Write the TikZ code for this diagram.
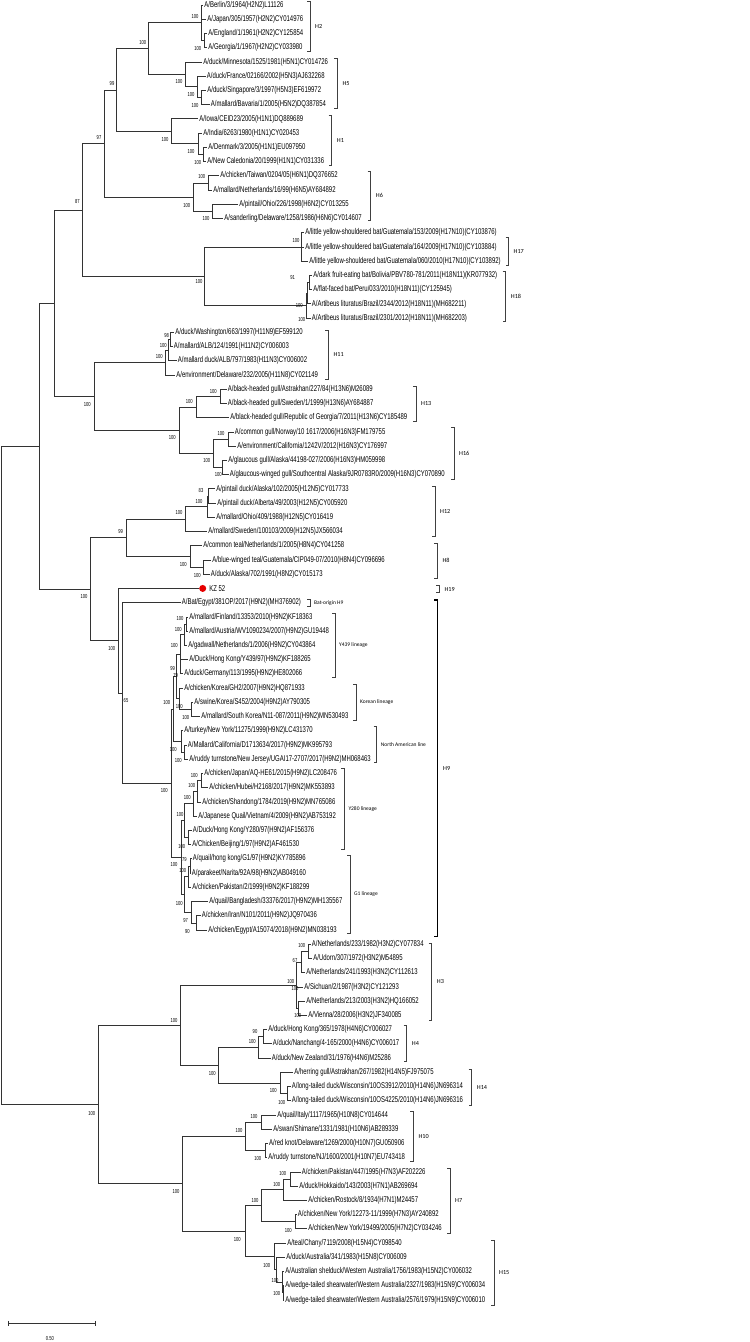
\documentclass[tikz,border=0pt]{standalone}
\usepackage{fontspec}
\newfontfamily\treefont[FakeStretch=0.71]{Liberation Sans}
\newfontfamily\cladefont{Carlito}
\usetikzlibrary{positioning}
\definecolor{kzred}{RGB}{230,0,0}
\tikzset{
  branch/.style={draw=black!80, line width=0.7pt},
  leaf/.style={anchor=west, inner xsep=1.2pt, inner ysep=0pt, font=\treefont\fontsize{8.4}{9}\selectfont},
  boot/.style={inner sep=0pt, font=\treefont\fontsize{5.8}{6}\selectfont},
  bracket/.style={draw=black!75, line width=0.6pt},
  clade/.style={anchor=west, inner sep=0pt, font=\cladefont\fontsize{6.2}{7}\selectfont},
  lineage/.style={anchor=west, inner sep=0pt, font=\cladefont\fontsize{5.5}{6.5}\selectfont},
}
\begin{document}
\begin{tikzpicture}[x=1pt,y=-1pt]
    \path[use as bounding box, fill=white] (0,0) rectangle (750,1342);
    % Internal nodes
    \coordinate (root) at (1,775.28);
    \coordinate (g) at (39.3,446.17);
    \coordinate (e) at (54,303.12);
    \coordinate (d) at (82.3,209.90);
    \coordinate (c) at (104.3,143.53);
    \coordinate (b) at (116.7,89.94);
    \coordinate (a) at (148.3,48.58);
    \coordinate (h2) at (201.7,22.79);
    \coordinate (eg) at (204,40.58);
    \coordinate (h5) at (185,74.37);
    \coordinate (fr5) at (197.7,86.82);
    \coordinate (sb5) at (201,97.50);
    \coordinate (h1) at (171,131.29);
    \coordinate (in1) at (198.7,143.74);
    \coordinate (dn1) at (203.3,154.42);
    \coordinate (h6) at (193.3,197.11);
    \coordinate (tn6) at (208.3,182.88);
    \coordinate (os6) at (212.3,211.34);
    \coordinate (q) at (204.3,276.26);
    \coordinate (h17) at (301.7,246.91);
    \coordinate (h18) at (306,305.61);
    \coordinate (a18) at (307.5,293.16);
    \coordinate (df18) at (309.3,282.49);
    \coordinate (f) at (94.3,396.33);
    \coordinate (h11) at (165.7,362.53);
    \coordinate (al11) at (168.5,350.08);
    \coordinate (wa11) at (170.5,339.41);
    \coordinate (h1316) at (179.3,430.13);
    \coordinate (h13) at (196,407.00);
    \coordinate (as13) at (220,396.33);
    \coordinate (h16) at (213.3,453.25);
    \coordinate (nc16) at (228.3,439.02);
    \coordinate (gl16) at (222.7,467.48);
    \coordinate (i) at (90.7,589.22);
    \coordinate (hn) at (126,537.74);
    \coordinate (h12) at (185,519.06);
    \coordinate (ao12) at (207.3,506.61);
    \coordinate (aa12) at (208.7,495.94);
    \coordinate (h8) at (190,556.41);
    \coordinate (bd8) at (203.3,567.09);
    \coordinate (j) at (118.3,640.69);
    \coordinate (h9) at (122.7,692.94);
    \coordinate (k9) at (171,783.21);
    \coordinate (up9) at (173.3,708.95);
    \coordinate (yk) at (176,676.49);
    \coordinate (y439) at (180,654.25);
    \coordinate (fag9) at (184.3,634.68);
    \coordinate (fa9) at (186,624.01);
    \coordinate (kor) at (179,698.72);
    \coordinate (sk9) at (191.7,709.39);
    \coordinate (na) at (181.7,741.41);
    \coordinate (cr9) at (184.3,752.08);
    \coordinate (lo9) at (181,857.47);
    \coordinate (y280) at (184.5,820.56);
    \coordinate (jhsq) at (193,803.66);
    \coordinate (jhs) at (197,791.21);
    \coordinate (jh) at (201,780.54);
    \coordinate (db) at (188.7,837.46);
    \coordinate (g1) at (184.7,894.38);
    \coordinate (qpp) at (188.3,876.59);
    \coordinate (qp) at (190,865.92);
    \coordinate (bie) at (191.7,912.17);
    \coordinate (ie) at (196.7,922.84);
    \coordinate (n) at (98.3,1104.39);
    \coordinate (m) at (180,1025.12);
    \coordinate (h3) at (296.7,985.10);
    \coordinate (nun3) at (301.7,961.97);
    \coordinate (nu3) at (308.3,951.30);
    \coordinate (nv3) at (298.3,1008.22);
    \coordinate (h414) at (218.3,1065.14);
    \coordinate (h4) at (258.3,1047.35);
    \coordinate (hn4) at (263.3,1036.68);
    \coordinate (h14) at (280,1082.93);
    \coordinate (lt14) at (287.7,1093.60);
    \coordinate (o) at (182.3,1183.65);
    \coordinate (h10) at (245.7,1136.29);
    \coordinate (qs10) at (261,1122.06);
    \coordinate (rr10) at (265.7,1150.52);
    \coordinate (p) at (245,1231.01);
    \coordinate (h7) at (261.7,1205.66);
    \coordinate (phr7) at (283.3,1189.65);
    \coordinate (ph7) at (290.7,1178.98);
    \coordinate (ny7) at (295,1221.67);
    \coordinate (h15) at (274,1256.36);
    \coordinate (au15) at (276,1269.70);
    \coordinate (sw15) at (282,1282.15);
    \coordinate (w15) at (283,1292.82);
    % Leaves
    \node[leaf] (berlin) at (203,5.00) {A/Berlin/3/1964(H2N2)L11126};
    \node[leaf] (japan) at (206,19.23) {A/Japan/305/1957(H2N2)CY014976};
    \node[leaf] (england) at (207,33.46) {A/England/1/1961(H2N2)CY125854};
    \node[leaf] (georgia) at (207,47.69) {A/Georgia/1/1967(H2N2)CY033980};
    \node[leaf] (minnesota) at (202,61.92) {A/duck/Minnesota/1525/1981(H5N1)CY014726};
    \node[leaf] (france) at (205.5,76.15) {A/duck/France/02166/2002(H5N3)AJ632268};
    \node[leaf] (singapore) at (206,90.38) {A/duck/Singapore/3/1997(H5N3)EF619972};
    \node[leaf] (bavaria) at (209.5,104.61) {A/mallard/Bavaria/1/2005(H5N2)DQ387854};
    \node[leaf] (iowa) at (198,118.84) {A/Iowa/CEID23/2005(H1N1)DQ889689};
    \node[leaf] (india) at (202,133.07) {A/India/6263/1980(H1N1)CY020453};
    \node[leaf] (denmark) at (207,147.30) {A/Denmark/3/2005(H1N1)EU097950};
    \node[leaf] (newcal) at (206,161.53) {A/New Caledonia/20/1999(H1N1)CY031336};
    \node[leaf] (taiwan) at (219,175.76) {A/chicken/Taiwan/0204/05(H6N1)DQ376652};
    \node[leaf] (nether6) at (212,189.99) {A/mallard/Netherlands/16/99(H6N5)AY684892};
    \node[leaf] (ohio) at (238,204.22) {A/pintail/Ohio/226/1998(H6N2)CY013255};
    \node[leaf] (sanderling) at (223,218.45) {A/sanderling/Delaware/1258/1986(H6N6)CY014607};
    \node[leaf] (lyb153) at (304,232.68) {A/little yellow-shouldered bat/Guatemala/153/2009(H17N10)(CY103876)};
    \node[leaf] (lyb164) at (304,246.91) {A/little yellow-shouldered bat/Guatemala/164/2009(H17N10)(CY103884)};
    \node[leaf] (lyb060) at (308,261.14) {A/little yellow-shouldered bat/Guatemala/060/2010(H17N10)(CY103892)};
    \node[leaf] (darkfruit) at (312,275.37) {A/dark fruit-eating bat/Bolivia/PBV780-781/2011(H18N11)(KR077932)};
    \node[leaf] (flatfaced) at (312,289.60) {A/flat-faced bat/Peru/033/2010(H18N11)(CY125945)};
    \node[leaf] (art2344) at (310.5,303.83) {A/Artibeus lituratus/Brazil/2344/2012(H18N11)(MH682211)};
    \node[leaf] (art2301) at (310.5,318.06) {A/Artibeus lituratus/Brazil/2301/2012(H18N11)(MH682203)};
    \node[leaf] (washington) at (174,332.29) {A/duck/Washington/663/1997(H11N9)EF599120};
    \node[leaf] (alb124) at (172.5,346.52) {A/mallard/ALB/124/1991(H11N2)CY006003};
    \node[leaf] (alb797) at (176.5,360.75) {A/mallard duck/ALB/797/1983(H11N3)CY006002};
    \node[leaf] (environment) at (175,374.98) {A/environment/Delaware/232/2005(H11N8)CY021149};
    \node[leaf] (astrakhan) at (226.5,389.21) {A/black-headed gull/Astrakhan/227/84(H13N6)M26089};
    \node[leaf] (sweden) at (226.5,403.44) {A/black-headed gull/Sweden/1/1999(H13N6)AY684887};
    \node[leaf] (republic) at (229,417.67) {A/black-headed gull/Republic of Georgia/7/2011(H13N6)CY185489};
    \node[leaf] (norway) at (233.5,431.90) {A/common gull/Norway/10 1617/2006(H16N3)FM179755};
    \node[leaf] (california) at (236,446.13) {A/environment/California/1242V/2012(H16N3)CY176997};
    \node[leaf] (glaucous) at (227,460.36) {A/glaucous gull/Alaska/44198-027/2006(H16N3)HM059998};
    \node[leaf] (glaucwing) at (228.5,474.59) {A/glaucous-winged gull/Southcentral Alaska/9JR0783R0/2009(H16N3)CY070890};
    \node[leaf] (alaska12) at (215,488.82) {A/pintail duck/Alaska/102/2005(H12N5)CY017733};
    \node[leaf] (alberta) at (216,503.05) {A/pintail duck/Alberta/49/2003(H12N5)CY005920};
    \node[leaf] (ohio12) at (215,517.28) {A/mallard/Ohio/409/1988(H12N5)CY016419};
    \node[leaf] (sweden12) at (207,531.51) {A/mallard/Sweden/100103/2009(H12N5)JX566034};
    \node[leaf] (commonteal) at (202,545.74) {A/common teal/Netherlands/1/2005(H8N4)CY041258};
    \node[leaf] (bluewinged) at (211,559.97) {A/blue-winged teal/Guatemala/CIP049-07/2010(H8N4)CY096696};
    \node[leaf] (duckalaska) at (209.5,574.20) {A/duck/Alaska/702/1991(H8N2)CY015173};
    \node[circle, fill=kzred, inner sep=0pt, minimum size=7pt] (kzdot) at (202.7,588.43) {};
    \node[leaf, right=1.5pt of kzdot] (kz52) {KZ 52};
    \node[leaf] (batEgypt) at (180.5,602.66) {A/Bat/Egypt/381OP/2017(H9N2)(MH376902)};
    \node[leaf] (finland) at (188,616.89) {A/mallard/Finland/13353/2010(H9N2)KF18363};
    \node[leaf] (austria) at (188,631.12) {A/mallard/Austria/WV1090234/2007(H9N2)GU19448};
    \node[leaf] (gadwall) at (187,645.35) {A/gadwall/Netherlands/1/2006(H9N2)CY043864};
    \node[leaf] (duckhk439) at (188,659.58) {A/Duck/Hong Kong/Y439/97(H9N2)KF188265};
    \node[leaf] (germany) at (183,673.81) {A/duck/Germany/113/1995(H9N2)HE802066};
    \node[leaf] (gh2) at (183,688.04) {A/chicken/Korea/GH2/2007(H9N2)HQ871933};
    \node[leaf] (swine) at (193,702.27) {A/swine/Korea/S452/2004(H9N2)AY790305};
    \node[leaf] (mallardsk) at (200,716.50) {A/mallard/South Korea/N11-087/2011(H9N2)MN530493};
    \node[leaf] (turkey) at (183,730.73) {A/turkey/New York/11275/1999(H9N2)LC431370};
    \node[leaf] (mcalifornia) at (186.5,744.96) {A/Mallard/California/D1713634/2017(H9N2)MK995793};
    \node[leaf] (ruddy) at (188,759.19) {A/ruddy turnstone/New Jersey/UGAI17-2707/2017(H9N2)MH068463};
    \node[leaf] (japan9) at (203,773.42) {A/chicken/Japan/AQ-HE61/2015(H9N2)LC208476};
    \node[leaf] (hubei) at (208,787.65) {A/chicken/Hubei/H2168/2017(H9N2)MK553893};
    \node[leaf] (shandong) at (201,801.88) {A/chicken/Shandong/1784/2019(H9N2)MN765086};
    \node[leaf] (jquail) at (197,816.11) {A/Japanese Quail/Vietnam/4/2009(H9N2)AB753192};
    \node[leaf] (duckhk280) at (191.5,830.34) {A/Duck/Hong Kong/Y280/97(H9N2)AF156376};
    \node[leaf] (beijing) at (191,844.57) {A/Chicken/Beijing/1/97(H9N2)AF461530};
    \node[leaf] (quailg1) at (191.5,858.80) {A/quail/hong kong/G1/97(H9N2)KY785896};
    \node[leaf] (parakeet) at (190.5,873.03) {A/parakeet/Narita/92A/98(H9N2)AB049160};
    \node[leaf] (pakistan) at (191,887.26) {A/chicken/Pakistan/2/1999(H9N2)KF188299};
    \node[leaf] (bangladesh) at (208,901.49) {A/quail/Bangladesh/33376/2017(H9N2)MH135567};
    \node[leaf] (iran) at (200.5,915.72) {A/chicken/Iran/N101/2011(H9N2)JQ970436};
    \node[leaf] (egypt) at (207,929.95) {A/chicken/Egypt/A15074/2018(H9N2)MN038193};
    \node[leaf] (neth233) at (310.5,944.18) {A/Netherlands/233/1982(H3N2)CY077834};
    \node[leaf] (udorn) at (312,958.41) {A/Udorn/307/1972(H3N2)M54895};
    \node[leaf] (neth241) at (305,972.64) {A/Netherlands/241/1993(H3N2)CY112613};
    \node[leaf] (sichuan) at (303,986.87) {A/Sichuan/2/1987(H3N2)CY121293};
    \node[leaf] (neth213) at (305,1001.10) {A/Netherlands/213/2003(H3N2)HQ166052};
    \node[leaf] (vienna) at (307,1015.33) {A/Vienna/28/2006(H3N2)JF340085};
    \node[leaf] (hk365) at (267,1029.56) {A/duck/Hong Kong/365/1978(H4N6)CY006027};
    \node[leaf] (nanchang) at (271.5,1043.79) {A/duck/Nanchang/4-165/2000(H4N6)CY006017};
    \node[leaf] (nz) at (270.5,1058.02) {A/duck/New Zealand/31/1976(H4N6)M25286};
    \node[leaf] (herring) at (293,1072.25) {A/herring gull/Astrakhan/267/1982(H14N5)FJ975075};
    \node[leaf] (lt3912) at (290.5,1086.48) {A/long-tailed duck/Wisconsin/10OS3912/2010(H14N6)JN696314};
    \node[leaf] (lt4225) at (290.5,1100.71) {A/long-tailed duck/Wisconsin/10OS4225/2010(H14N6)JN696316};
    \node[leaf] (quailitaly) at (276,1114.94) {A/quail/Italy/1117/1965(H10N8)CY014644};
    \node[leaf] (swan) at (272,1129.17) {A/swan/Shimane/1331/1981(H10N6)AB289339};
    \node[leaf] (redknot) at (267.8,1143.40) {A/red knot/Delaware/1269/2000(H10N7)GU050906};
    \node[leaf] (ruddynj) at (267,1157.63) {A/ruddy turnstone/NJ/1600/2001(H10N7)EU743418};
    \node[leaf] (pakistan447) at (300.5,1171.86) {A/chicken/Pakistan/447/1995(H7N3)AF202226};
    \node[leaf] (hokkaido) at (298,1186.09) {A/duck/Hokkaido/143/2003(H7N1)AB269694};
    \node[leaf] (rostock) at (307,1200.32) {A/chicken/Rostock/8/1934(H7N1)M24457};
    \node[leaf] (ny12273) at (296.5,1214.55) {A/chicken/New York/12273-11/1999(H7N3)AY240892};
    \node[leaf] (ny19499) at (307,1228.78) {A/chicken/New York/19499/2005(H7N2)CY034246};
    \node[leaf] (teal) at (286,1243.01) {A/teal/Chany/7119/2008(H15N4)CY098540};
    \node[leaf] (duckaus) at (285,1257.24) {A/duck/Australia/341/1983(H15N8)CY006009};
    \node[leaf] (shelduck) at (284,1271.47) {A/Australian shelduck/Western Australia/1756/1983(H15N2)CY006032};
    \node[leaf] (wedge2327) at (284,1285.70) {A/wedge-tailed shearwater/Western Australia/2327/1983(H15N9)CY006034};
    \node[leaf] (wedge2576) at (284,1299.93) {A/wedge-tailed shearwater/Western Australia/2576/1979(H15N9)CY006010};
    % Backbone
    \draw[branch] (root) |- (g) (root) |- (n);
    \draw[branch] (g) |- (e) (g) |- (i);
    \draw[branch] (e) |- (d) (e) |- (f);
    \draw[branch] (d) |- (c) (d) |- (q);
    \draw[branch] (c) |- (b) (c) |- (h6);
    \draw[branch] (b) |- (a) (b) |- (h1);
    \draw[branch] (a) |- (h2) (a) |- (h5);
    % H2, H5, H1, H6
    \draw[branch] (h2) |- (berlin.west) (h2) |- (japan.west) (h2) |- (eg);
    \draw[branch] (eg) |- (england.west) (eg) |- (georgia.west);
    \draw[branch] (h5) |- (minnesota.west) (h5) |- (fr5);
    \draw[branch] (fr5) |- (france.west) (fr5) |- (sb5);
    \draw[branch] (sb5) |- (singapore.west) (sb5) |- (bavaria.west);
    \draw[branch] (h1) |- (iowa.west) (h1) |- (in1);
    \draw[branch] (in1) |- (india.west) (in1) |- (dn1);
    \draw[branch] (dn1) |- (denmark.west) (dn1) |- (newcal.west);
    \draw[branch] (h6) |- (tn6) (h6) |- (os6);
    \draw[branch] (tn6) |- (taiwan.west) (tn6) |- (nether6.west);
    \draw[branch] (os6) |- (ohio.west) (os6) |- (sanderling.west);
    % H17, H18
    \draw[branch] (q) |- (h17) (q) |- (h18);
    \draw[branch] (h17) |- (lyb153.west) (h17) |- (lyb164.west) (h17) |- (lyb060.west);
    \draw[branch] (h18) |- (a18) (h18) |- (art2301.west);
    \draw[branch] (a18) |- (df18) (a18) |- (art2344.west);
    \draw[branch] (df18) |- (darkfruit.west) (df18) |- (flatfaced.west);
    % H11, H13, H16
    \draw[branch] (f) |- (h11) (f) |- (h1316);
    \draw[branch] (h11) |- (al11) (h11) |- (environment.west);
    \draw[branch] (al11) |- (wa11) (al11) |- (alb797.west);
    \draw[branch] (wa11) |- (washington.west) (wa11) |- (alb124.west);
    \draw[branch] (h1316) |- (h13) (h1316) |- (h16);
    \draw[branch] (h13) |- (as13) (h13) |- (republic.west);
    \draw[branch] (as13) |- (astrakhan.west) (as13) |- (sweden.west);
    \draw[branch] (h16) |- (nc16) (h16) |- (gl16);
    \draw[branch] (nc16) |- (norway.west) (nc16) |- (california.west);
    \draw[branch] (gl16) |- (glaucous.west) (gl16) |- (glaucwing.west);
    % H12, H8, H19
    \draw[branch] (i) |- (hn) (i) |- (j);
    \draw[branch] (hn) |- (h12) (hn) |- (h8);
    \draw[branch] (h12) |- (ao12) (h12) |- (sweden12.west);
    \draw[branch] (ao12) |- (aa12) (ao12) |- (ohio12.west);
    \draw[branch] (aa12) |- (alaska12.west) (aa12) |- (alberta.west);
    \draw[branch] (h8) |- (commonteal.west) (h8) |- (bd8);
    \draw[branch] (bd8) |- (bluewinged.west) (bd8) |- (duckalaska.west);
    \draw[branch] (j) |- (kzdot.west) (j) |- (h9);
    % H9
    \draw[branch] (h9) |- (batEgypt.west) (h9) |- (k9);
    \draw[branch] (k9) |- (up9) (k9) |- (lo9);
    \draw[branch] (up9) |- (yk) (up9) |- (na);
    \draw[branch] (yk) |- (y439) (yk) |- (kor);
    \draw[branch] (y439) |- (fag9) (y439) |- (duckhk439.west) (y439) |- (germany.west);
    \draw[branch] (fag9) |- (fa9) (fag9) |- (gadwall.west);
    \draw[branch] (fa9) |- (finland.west) (fa9) |- (austria.west);
    \draw[branch] (kor) |- (gh2.west) (kor) |- (sk9);
    \draw[branch] (sk9) |- (swine.west) (sk9) |- (mallardsk.west);
    \draw[branch] (na) |- (turkey.west) (na) |- (cr9);
    \draw[branch] (cr9) |- (mcalifornia.west) (cr9) |- (ruddy.west);
    \draw[branch] (lo9) |- (y280) (lo9) |- (g1);
    \draw[branch] (y280) |- (jhsq) (y280) |- (db);
    \draw[branch] (jhsq) |- (jhs) (jhsq) |- (jquail.west);
    \draw[branch] (jhs) |- (jh) (jhs) |- (shandong.west);
    \draw[branch] (jh) |- (japan9.west) (jh) |- (hubei.west);
    \draw[branch] (db) |- (duckhk280.west) (db) |- (beijing.west);
    \draw[branch] (g1) |- (qpp) (g1) |- (bie);
    \draw[branch] (qpp) |- (qp) (qpp) |- (pakistan.west);
    \draw[branch] (qp) |- (quailg1.west) (qp) |- (parakeet.west);
    \draw[branch] (bie) |- (bangladesh.west) (bie) |- (ie);
    \draw[branch] (ie) |- (iran.west) (ie) |- (egypt.west);
    % H3, H4, H14
    \draw[branch] (n) |- (m) (n) |- (o);
    \draw[branch] (m) |- (h3) (m) |- (h414);
    \draw[branch] (h3) |- (nun3) (h3) |- (sichuan.west) (h3) |- (nv3);
    \draw[branch] (nun3) |- (nu3) (nun3) |- (neth241.west);
    \draw[branch] (nu3) |- (neth233.west) (nu3) |- (udorn.west);
    \draw[branch] (nv3) |- (neth213.west) (nv3) |- (vienna.west);
    \draw[branch] (h414) |- (h4) (h414) |- (h14);
    \draw[branch] (h4) |- (hn4) (h4) |- (nz.west);
    \draw[branch] (hn4) |- (hk365.west) (hn4) |- (nanchang.west);
    \draw[branch] (h14) |- (herring.west) (h14) |- (lt14);
    \draw[branch] (lt14) |- (lt3912.west) (lt14) |- (lt4225.west);
    % H10, H7, H15
    \draw[branch] (o) |- (h10) (o) |- (p);
    \draw[branch] (h10) |- (qs10) (h10) |- (rr10);
    \draw[branch] (qs10) |- (quailitaly.west) (qs10) |- (swan.west);
    \draw[branch] (rr10) |- (redknot.west) (rr10) |- (ruddynj.west);
    \draw[branch] (p) |- (h7) (p) |- (h15);
    \draw[branch] (h7) |- (phr7) (h7) |- (ny7);
    \draw[branch] (phr7) |- (ph7) (phr7) |- (rostock.west);
    \draw[branch] (ph7) |- (pakistan447.west) (ph7) |- (hokkaido.west);
    \draw[branch] (ny7) |- (ny12273.west) (ny7) |- (ny19499.west);
    \draw[branch] (h15) |- (teal.west) (h15) |- (au15);
    \draw[branch] (au15) |- (duckaus.west) (au15) |- (sw15);
    \draw[branch] (sw15) |- (shelduck.west) (sw15) |- (w15);
    \draw[branch] (w15) |- (wedge2327.west) (w15) |- (wedge2576.west);
    % Support values
    \foreach \bx/\by/\bv [count=\k] in {195/16.7/100, 197.7/48.3/100, 142.7/42.3/100, 179/81.7/100, 191/94.3/100, 195/105.3/100, 112/83/99, 165/139/100, 191/151.7/100, 197.7/162.3/100, 99/137.3/97, 201.7/176.7/100, 186.7/205/100, 206/218.3/100, 77.3/201.7/87, 296/240.7/100, 199/281/100, 292.7/277.3/91, 299.3/305/100, 301.7/319/100, 166.7/335/98, 163.3/345/100, 159.3/356.7/100, 87.3/404/100, 213.3/391/100, 189.3/401/100, 172.3/437.7/100, 221/433.3/100, 206.7/460.7/100, 218.3/474/100, 201/490.7/83, 199/501/100, 179/512.7/100, 120.7/531.7/99, 183.3/564/100, 197.3/575/100, 84/596.7/100, 111.7/648.3/100, 126/700.7/65, 180/618.3/100, 178.3/629.3/100, 174.3/645/100, 172.7/668.3/99, 175.7/675/79, 179.3/706/100, 185.7/717.3/100, 166.7/702.7/100, 173.3/749.3/100, 178.3/760/100, 164.3/790/100, 194.3/775/100, 191.7/785.7/100, 187.3/797.7/100, 180/814.3/100, 181.7/846/100, 184.3/859.3/79, 174/864.3/100, 182.7/870.7/100, 179.3/903.3/100, 185.7/920/97, 187.3/931.7/90, 301.7/945.7/100, 295/960.7/67, 290.7/981/100, 295/988.3/100, 297.7/1015/100, 174/1020/100, 255/1031/90, 252.3/1041.7/100, 212.3/1073.3/100, 273.3/1090.7/100, 281.7/1102.3/100, 91.7/1113.3/100, 254/1116/100, 239/1130.7/100, 257.7/1158.3/100, 176/1191.7/100, 282.7/1173.3/100, 276.7/1184.3/100, 255/1200/100, 288.3/1230/100, 237.3/1239.3/100, 266.7/1265/100, 275/1280/100, 276.7/1293.3/100}
      \node[boot] (bs\k) at (\bx,\by) {\bv};
    % Clade brackets
    \foreach \nm/\bx/\ya/\yb in {H2/310/1.7/51.7, H5/337.3/58.3/108.3, H1/331.7/115/165, H6/370.7/171.7/220, H17/508.5/237.3/265, H18/505.7/271.7/321.7, H11/328.3/330.7/379, H13/416/386/421.7, H16/454/427.7/479.3, H12/435/486.7/536.7, H8/437.3/543.3/578.3, H19/439.3/585.7/592.7, H3/431.7/943.3/1020, H4/406.7/1025/1061.7, H14/471.7/1069/1105, H10/413.3/1111.7/1161.7, H7/450/1168.3/1233.3, H15/494/1240/1305}{
      \draw[bracket] (\bx-3,\ya) -- (\bx,\ya) -- (\bx,\yb) -- (\bx-3,\yb);
      \node[clade] (c\nm) at (\bx+5,{(\ya+\yb)/2}) {\nm};
    }
    \foreach \nm/\bx/\ya/\yb/\lab in {bat/310/599.3/606/Bat-origin H9, yfour/335/613.3/677.3/Y439 lineage, kor/356/684/720.7/Korean lineage, nam/376.7/726.7/762.7/North American line, ytwo/344.3/768.3/849.3/Y280 lineage, gone/350/855/933.3/G1 lineage}{
      \draw[bracket] (\bx-3,\ya) -- (\bx,\ya) -- (\bx,\yb) -- (\bx-3,\yb);
      \node[lineage] (l\nm) at (\bx+4,{(\ya+\yb)/2}) {\lab};
    }
    \draw[bracket, draw=black, line width=1.1pt] (434.3,600) -- (437.3,600) -- (437.3,936.7) -- (434.3,936.7);
    \node[clade] (cH9) at (443,768.35) {H9};
    % Scale bar
    \coordinate (sbl) at (8.3,1323.3);
    \coordinate (sbr) at (95,1323.3);
    \draw[branch] (sbl) -- (sbr);
    \draw[branch] ([yshift=2.5pt]sbl) -- ([yshift=-2.5pt]sbl);
    \draw[branch] ([yshift=2.5pt]sbr) -- ([yshift=-2.5pt]sbr);
    \node[boot] (sblab) at (50,1338.3) {0.50};
\end{tikzpicture}
\end{document}
